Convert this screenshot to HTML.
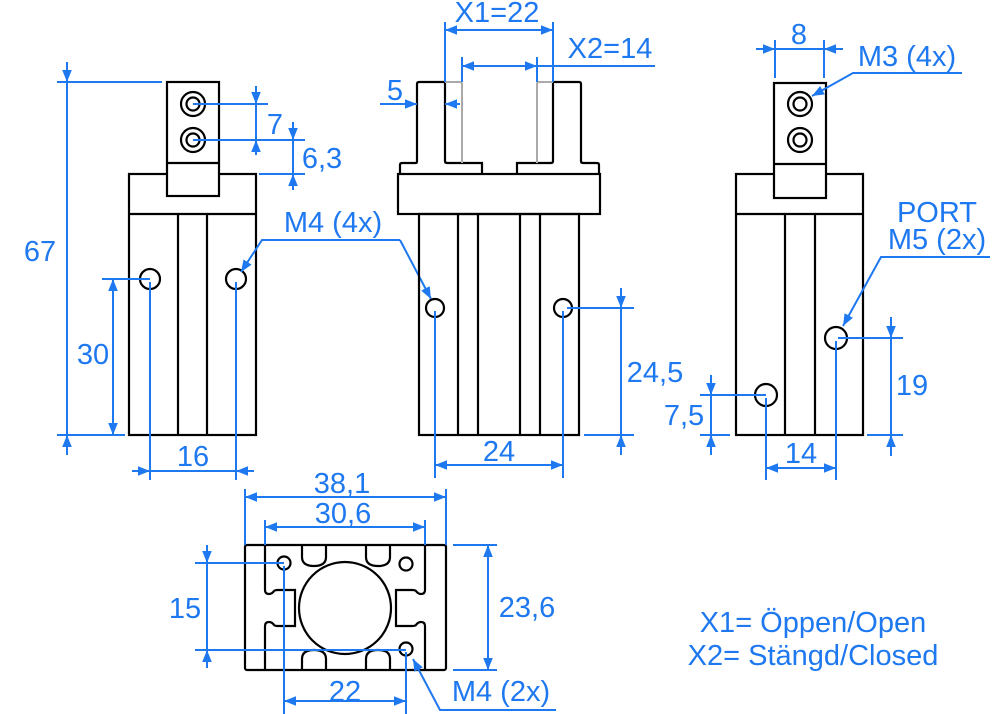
<!DOCTYPE html>
<html><head><meta charset="utf-8"><style>
html,body{margin:0;padding:0;background:#fff;}
svg{display:block}
text{font-family:"Liberation Sans","DejaVu Sans",sans-serif;fill:#1e78f0;font-size:29px;}
.k{stroke:#000;stroke-width:2.2;fill:none}
.g{stroke:#aaa;stroke-width:2;fill:none}
.b{stroke:#1e78f0;stroke-width:2;fill:none}
</style></head><body>
<svg width="1000" height="714" viewBox="0 0 1000 714">
<defs>
<marker id="a" viewBox="0 0 10 10" refX="10" refY="5" markerWidth="12" markerHeight="12" markerUnits="userSpaceOnUse" orient="auto-start-reverse"><path d="M0,1 L10,5 L0,9 Z" fill="#1e78f0"/></marker>
</defs>

<!-- LEFT VIEW -->
<rect class="k" x="129" y="174" width="127" height="261"/>
<line class="k" x1="129" y1="214" x2="256" y2="214"/>
<line class="k" x1="178" y1="214" x2="178" y2="435"/>
<line class="k" x1="207" y1="214" x2="207" y2="435"/>
<rect class="k" x="167" y="82" width="52" height="114" style="fill:#fff"/>
<line class="k" x1="167" y1="163" x2="219" y2="163"/>
<circle class="k" cx="193" cy="104" r="12"/><circle class="k" cx="193" cy="104" r="6.5"/>
<circle class="k" cx="193" cy="140" r="12"/><circle class="k" cx="193" cy="140" r="6.5"/>
<circle class="k" cx="150" cy="279" r="10"/><circle class="k" cx="236" cy="279" r="10"/>

<line class="b" x1="57" y1="82" x2="162" y2="82"/>
<line class="b" x1="57" y1="435" x2="125" y2="435"/>
<line class="b" x1="67" y1="82" x2="67" y2="452"/>
<line class="b" x1="67" y1="62" x2="67" y2="82" marker-end="url(#a)"/>
<line class="b" x1="67" y1="455" x2="67" y2="435" marker-end="url(#a)"/>
<text x="40" y="261" text-anchor="middle">67</text>
<line class="b" x1="193" y1="104" x2="268" y2="104"/>
<line class="b" x1="193" y1="140" x2="305" y2="140"/>
<line class="b" x1="256" y1="86" x2="256" y2="104" marker-end="url(#a)"/>
<line class="b" x1="256" y1="155" x2="256" y2="140" marker-end="url(#a)"/>
<line class="b" x1="256" y1="104" x2="256" y2="140"/>
<text x="275" y="134" text-anchor="middle">7</text>
<line class="b" x1="259" y1="174" x2="305" y2="174"/>
<line class="b" x1="293" y1="122" x2="293" y2="140" marker-end="url(#a)"/>
<line class="b" x1="293" y1="190" x2="293" y2="174" marker-end="url(#a)"/>
<line class="b" x1="293" y1="140" x2="293" y2="174"/>
<text x="322" y="168" text-anchor="middle">6,3</text>
<line class="b" x1="102" y1="279" x2="150" y2="279"/>
<line class="b" x1="113" y1="279" x2="113" y2="435" marker-start="url(#a)" marker-end="url(#a)"/>
<text x="93" y="364" text-anchor="middle">30</text>
<line class="b" x1="150" y1="282" x2="150" y2="480"/>
<line class="b" x1="236" y1="282" x2="236" y2="480"/>
<line class="b" x1="132" y1="471" x2="150" y2="471" marker-end="url(#a)"/>
<line class="b" x1="254" y1="471" x2="236" y2="471" marker-end="url(#a)"/>
<line class="b" x1="150" y1="471" x2="236" y2="471"/>
<text x="193" y="466" text-anchor="middle">16</text>
<text x="333" y="232" text-anchor="middle">M4 (4x)</text>
<polyline class="b" points="400,240 262,240 241,272" marker-end="url(#a)"/>
<line class="b" x1="400" y1="240" x2="431" y2="299" marker-end="url(#a)"/>

<!-- MIDDLE VIEW -->
<rect class="k" x="419" y="214" width="160" height="221"/>
<line class="k" x1="458" y1="214" x2="458" y2="435"/>
<line class="k" x1="478" y1="214" x2="478" y2="435"/>
<line class="k" x1="520" y1="214" x2="520" y2="435"/>
<line class="k" x1="540" y1="214" x2="540" y2="435"/>
<rect class="k" x="398" y="174" width="202" height="40"/>
<path class="k" d="M400,174 V165 Q400,163 402,163 H416 Q417,163 417,161 V84 Q417,82 419,82 H445 V161 Q445,163 447,163 H482 V174"/>
<path class="k" d="M517,174 V163 H551 Q553,163 553,161 V82 H579 Q581,82 581,84 V161 Q581,163 583,163 H597 Q599,163 599,165 V174"/>
<path class="g" d="M445,82 H460 Q462,82 462,84 V163"/>
<path class="g" d="M553,82 H539 Q537,82 537,84 V163"/>
<circle class="k" cx="435" cy="308" r="9"/><circle class="k" cx="563" cy="308" r="9"/>
<line class="b" x1="445" y1="22" x2="445" y2="82"/>
<line class="b" x1="553" y1="22" x2="553" y2="82"/>
<line class="b" x1="445" y1="30" x2="553" y2="30" marker-start="url(#a)" marker-end="url(#a)"/>
<text x="497" y="22" text-anchor="middle">X1=22</text>
<line class="b" x1="462" y1="57" x2="462" y2="82"/>
<line class="b" x1="537" y1="57" x2="537" y2="82"/>
<line class="b" x1="462" y1="66" x2="537" y2="66" marker-start="url(#a)" marker-end="url(#a)"/>
<line class="b" x1="537" y1="66" x2="655" y2="66"/>
<text x="610" y="58" text-anchor="middle">X2=14</text>
<line class="b" x1="380" y1="104" x2="417" y2="104" marker-end="url(#a)"/>
<line class="b" x1="460" y1="104" x2="445" y2="104" marker-end="url(#a)"/>
<text x="395" y="100" text-anchor="middle">5</text>
<line class="b" x1="435" y1="311" x2="435" y2="478"/>
<line class="b" x1="563" y1="311" x2="563" y2="478"/>
<line class="b" x1="435" y1="465" x2="563" y2="465" marker-start="url(#a)" marker-end="url(#a)"/>
<text x="499" y="461" text-anchor="middle">24</text>
<line class="b" x1="567" y1="308" x2="634" y2="308"/>
<line class="b" x1="584" y1="435" x2="634" y2="435"/>
<line class="b" x1="621" y1="288" x2="621" y2="308" marker-end="url(#a)"/>
<line class="b" x1="621" y1="455" x2="621" y2="435" marker-end="url(#a)"/>
<line class="b" x1="621" y1="308" x2="621" y2="435"/>
<text x="655" y="382" text-anchor="middle">24,5</text>

<!-- RIGHT VIEW -->
<rect class="k" x="736" y="174" width="127" height="261"/>
<line class="k" x1="736" y1="214" x2="863" y2="214"/>
<line class="k" x1="785" y1="214" x2="785" y2="435"/>
<line class="k" x1="815" y1="214" x2="815" y2="435"/>
<rect class="k" x="774" y="83" width="52" height="115" style="fill:#fff"/>
<line class="k" x1="774" y1="164" x2="826" y2="164"/>
<circle class="k" cx="800" cy="104" r="12"/><circle class="k" cx="800" cy="104" r="6.5"/>
<circle class="k" cx="800" cy="140" r="12"/><circle class="k" cx="800" cy="140" r="6.5"/>
<circle class="k" cx="766" cy="395" r="11"/><circle class="k" cx="836" cy="338" r="11"/>
<line class="b" x1="775" y1="40" x2="775" y2="78"/>
<line class="b" x1="824" y1="40" x2="824" y2="78"/>
<line class="b" x1="756" y1="49" x2="775" y2="49" marker-end="url(#a)"/>
<line class="b" x1="843" y1="49" x2="824" y2="49" marker-end="url(#a)"/>
<line class="b" x1="775" y1="49" x2="824" y2="49"/>
<text x="799" y="44" text-anchor="middle">8</text>
<text x="907" y="66" text-anchor="middle">M3 (4x)</text>
<polyline class="b" points="962,73 853,73 812,96" marker-end="url(#a)"/>
<text x="937" y="222" text-anchor="middle">PORT</text>
<text x="937" y="249" text-anchor="middle">M5 (2x)</text>
<polyline class="b" points="990,257 881,257 843,326" marker-end="url(#a)"/>
<line class="b" x1="838" y1="338" x2="903" y2="338"/>
<line class="b" x1="867" y1="435" x2="903" y2="435"/>
<line class="b" x1="891" y1="317" x2="891" y2="338" marker-end="url(#a)"/>
<line class="b" x1="891" y1="456" x2="891" y2="435" marker-end="url(#a)"/>
<line class="b" x1="891" y1="338" x2="891" y2="435"/>
<text x="912" y="395" text-anchor="middle">19</text>
<line class="b" x1="700" y1="395" x2="766" y2="395"/>
<line class="b" x1="700" y1="435" x2="730" y2="435"/>
<line class="b" x1="711" y1="375" x2="711" y2="395" marker-end="url(#a)"/>
<line class="b" x1="711" y1="455" x2="711" y2="435" marker-end="url(#a)"/>
<line class="b" x1="711" y1="395" x2="711" y2="435"/>
<text x="684" y="425" text-anchor="middle">7,5</text>
<line class="b" x1="766" y1="398" x2="766" y2="480"/>
<line class="b" x1="836" y1="341" x2="836" y2="480"/>
<line class="b" x1="766" y1="468" x2="836" y2="468" marker-start="url(#a)" marker-end="url(#a)"/>
<text x="801" y="463" text-anchor="middle">14</text>

<!-- BOTTOM VIEW -->
<rect class="k" x="245" y="545" width="201" height="125" rx="2"/>
<line class="k" x1="265" y1="545" x2="265" y2="590"/>
<line class="k" x1="265" y1="626" x2="265" y2="670"/>
<path class="k" d="M265,590 Q265,594 269,594 Q272,594 274,591 Q275,590 278,590 H295 V626 H278 Q275,626 274,625 Q272,622 269,622 Q265,622 265,626"/>
<line class="k" x1="425" y1="545" x2="425" y2="590"/>
<line class="k" x1="425" y1="626" x2="425" y2="670"/>
<path class="k" d="M425,590 Q425,594 421,594 Q418,594 416,591 Q415,590 412,590 H396 V626 H412 Q415,626 416,625 Q418,622 421,622 Q425,622 425,626"/>
<path class="k" d="M302,545 V557 Q302,566 314,566 Q326,566 326,557 V545"/>
<path class="k" d="M366,545 V557 Q366,566 378,566 Q390,566 390,557 V545"/>
<path class="k" d="M302,670 V659 Q302,650 314,650 Q326,650 326,659 V670"/>
<path class="k" d="M366,670 V659 Q366,650 378,650 Q390,650 390,659 V670"/>
<circle class="k" cx="345" cy="608" r="46" style="fill:#fff"/>
<circle class="k" cx="284" cy="563" r="6.5"/>
<circle class="k" cx="406" cy="564" r="6.5"/>
<circle class="k" cx="406" cy="649" r="6.5"/>
<line class="b" x1="245" y1="489" x2="245" y2="545"/>
<line class="b" x1="446" y1="489" x2="446" y2="545"/>
<line class="b" x1="245" y1="497" x2="446" y2="497" marker-start="url(#a)" marker-end="url(#a)"/>
<text x="342" y="493" text-anchor="middle">38,1</text>
<line class="b" x1="265" y1="520" x2="265" y2="545"/>
<line class="b" x1="425" y1="520" x2="425" y2="545"/>
<line class="b" x1="265" y1="527" x2="425" y2="527" marker-start="url(#a)" marker-end="url(#a)"/>
<text x="343" y="523" text-anchor="middle">30,6</text>
<line class="b" x1="195" y1="563" x2="284" y2="563"/>
<line class="b" x1="195" y1="650" x2="406" y2="650"/>
<line class="b" x1="207" y1="545" x2="207" y2="563" marker-end="url(#a)"/>
<line class="b" x1="207" y1="668" x2="207" y2="650" marker-end="url(#a)"/>
<line class="b" x1="207" y1="563" x2="207" y2="650"/>
<text x="185" y="618" text-anchor="middle">15</text>
<line class="b" x1="453" y1="545" x2="497" y2="545"/>
<line class="b" x1="453" y1="670" x2="497" y2="670"/>
<line class="b" x1="488" y1="545" x2="488" y2="670" marker-start="url(#a)" marker-end="url(#a)"/>
<text x="527" y="617" text-anchor="middle">23,6</text>
<line class="b" x1="284" y1="566" x2="284" y2="714"/>
<line class="b" x1="406" y1="652" x2="406" y2="714"/>
<line class="b" x1="284" y1="701" x2="406" y2="701" marker-start="url(#a)" marker-end="url(#a)"/>
<text x="345" y="701" text-anchor="middle">22</text>
<text x="501" y="701" text-anchor="middle">M4 (2x)</text>
<polyline class="b" points="556,710 440,710 413,659" marker-end="url(#a)"/>

<text x="813" y="632" text-anchor="middle" style="font-size:29px">X1= Öppen/Open</text>
<text x="813" y="665" text-anchor="middle" style="font-size:29px">X2= Stängd/Closed</text>
</svg>
</body></html>
